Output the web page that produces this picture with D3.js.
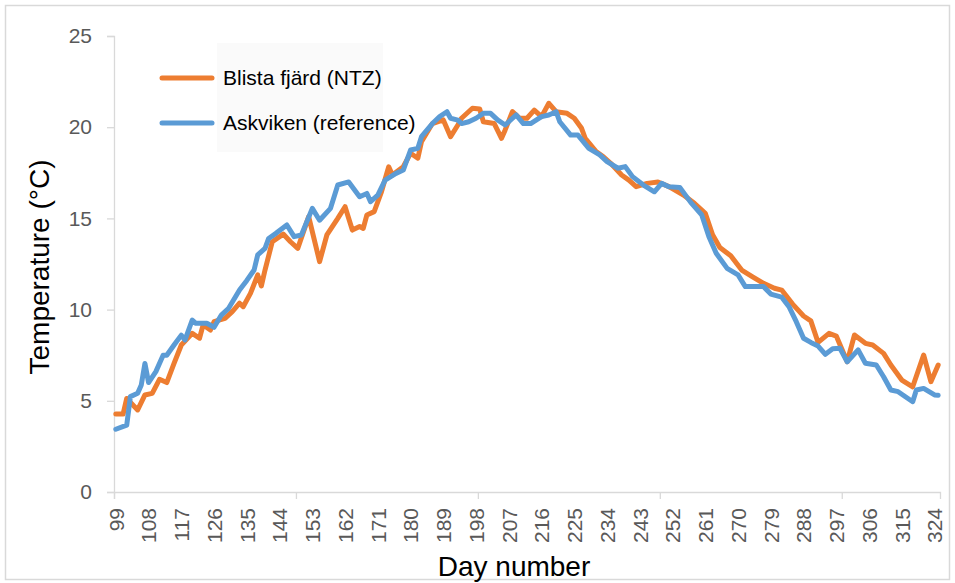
<!DOCTYPE html>
<html>
<head>
<meta charset="utf-8">
<script src="https://cdn.jsdelivr.net/npm/d3@7"></script>
<style>
  body { margin: 0; background: #fff; }
  svg { display: block; font-family: "Liberation Sans", Arial, sans-serif; }
</style>
</head>
<body>
<div id="chart"></div>
<script>
// Day range of the category axis
const firstDay = 99;
const lastDay = 325;
const dayLabels = [99, 108, 117, 126, 135, 144, 153, 162, 171, 180, 189, 198, 207, 216, 225, 234, 243, 252, 261, 270, 279, 288, 297, 306, 315, 324];
const tempTicks = [0, 5, 10, 15, 20, 25];

// Blista fjärd (NTZ) - [day, temperature]
const blista = [
  [99, 4.27], [101, 4.27], [102, 5.13], [105, 4.5], [107, 5.32], [109, 5.41], [111, 6.18], [113, 6.0],
  [115, 7.05], [117, 8.06], [120, 8.7], [122, 8.43], [123, 9.16], [125, 8.88], [126, 9.34], [129, 9.52],
  [131, 9.89], [133, 10.35], [134, 10.16], [136, 10.89], [138, 11.9], [139, 11.3], [140, 12.17], [142, 13.72],
  [145, 14.14], [147, 13.72], [149, 13.36], [152, 15.1], [155, 12.63], [157, 14.09], [160, 15.0], [162, 15.64],
  [164, 14.36], [166, 14.55], [167, 14.45], [168, 15.19], [170, 15.37], [172, 16.46], [174, 17.83], [175, 17.38],
  [178, 17.83], [180, 18.57], [182, 18.3], [183, 19.2], [186, 20.2], [189, 20.4], [191, 19.48], [193, 20.12],
  [194, 20.49], [197, 21.04], [199, 21.0], [200, 20.3], [203, 20.2], [205, 19.39], [206, 19.85], [208, 20.85],
  [210, 20.49], [212, 20.49], [214, 20.94], [216, 20.58], [218, 21.31], [220, 20.85], [223, 20.76], [225, 20.49],
  [227, 19.94], [228, 19.39], [231, 18.66], [233, 18.38], [235, 18.02], [238, 17.38], [240, 17.1], [242, 16.74],
  [245, 16.92], [248, 17.0], [251, 16.74], [255, 16.28], [258, 15.83], [261, 15.28], [263, 14.1], [265, 13.4],
  [268, 12.95], [271, 12.17], [274, 11.8], [277, 11.44], [280, 11.17], [282, 11.07], [285, 10.3], [288, 9.65],
  [290, 9.38], [292, 8.2], [295, 8.7], [297, 8.55], [300, 7.14], [302, 8.61], [305, 8.15], [307, 8.06],
  [310, 7.6], [312, 6.96], [313, 6.69], [315, 6.14], [318, 5.77], [321, 7.51], [323, 6.05], [325, 6.96]
];

// Askviken (reference) - [day, temperature]
const askviken = [
  [99, 3.44], [102, 3.67], [103, 5.23], [105, 5.41], [106, 5.87], [107, 7.05], [108, 6.0], [110, 6.6],
  [112, 7.5], [113, 7.5], [115, 8.06], [117, 8.6], [118, 8.33], [120, 9.43], [121, 9.25], [124, 9.25],
  [126, 9.03], [128, 9.7], [130, 10.07], [133, 11.07], [135, 11.6], [137, 12.17], [138, 13.0], [140, 13.36],
  [141, 13.9], [143, 14.18], [146, 14.64], [148, 14.0], [150, 14.09], [153, 15.55], [155, 14.9], [158, 15.55],
  [160, 16.83], [163, 17.0], [166, 16.19], [168, 16.37], [169, 15.92], [171, 16.28], [173, 17.1], [176, 17.47],
  [178, 17.65], [180, 18.75], [182, 18.84], [183, 19.48], [186, 20.2], [188, 20.58], [190, 20.85], [191, 20.49],
  [193, 20.39], [194, 20.2], [196, 20.3], [198, 20.49], [200, 20.76], [202, 20.76], [204, 20.39], [206, 20.12],
  [209, 20.67], [211, 20.2], [213, 20.2], [216, 20.58], [218, 20.67], [220, 20.85], [221, 20.3], [224, 19.57],
  [226, 19.57], [229, 18.84], [232, 18.48], [234, 18.11], [237, 17.75], [239, 17.84], [241, 17.29], [244, 16.83],
  [247, 16.46], [249, 16.92], [251, 16.74], [254, 16.7], [257, 15.88], [260, 15.2], [262, 14.0], [264, 13.09],
  [267, 12.26], [270, 11.9], [272, 11.26], [274, 11.26], [277, 11.26], [279, 10.85], [282, 10.68], [284, 10.16],
  [286, 9.34], [288, 8.43], [290, 8.2], [292, 8.0], [294, 7.55], [296, 7.85], [298, 7.88], [300, 7.14],
  [303, 7.79], [305, 7.06], [308, 6.96], [310, 6.32], [312, 5.59], [314, 5.5], [316, 5.22], [318, 4.95],
  [319, 5.59], [321, 5.68], [324, 5.32], [325, 5.3]
];

const seriesNames = ["Blista fjärd (NTZ)", "Askviken (reference)"];
const seriesColors = ["#ED7D31", "#5B9BD5"];

// Plot box (pixels)
const W = 955, H = 583;
const plot = {left: 114, right: 940, top: 36, bottom: 492};
const axisGray = "#d9d9d9";
const labelGray = "#595959";

const svg = d3.select("#chart")
    .append("svg")
    .attr("width", W)
    .attr("height", H);

// Outer chart border
svg.append("rect")
    .attr("x", 5.5)
    .attr("y", 5.5)
    .attr("width", 944)
    .attr("height", 574)
    .attr("fill", "#fff")
    .attr("stroke", axisGray)
    .attr("stroke-width", 1.5);

// Scales: category axis, each day takes one slot
const x = d3.scaleLinear()
    .domain([firstDay - 0.5, lastDay + 0.5])
    .range([plot.left, plot.right]);

const y = d3.scaleLinear()
    .domain([0, 25])
    .range([plot.bottom, plot.top]);

// Y axis
const yAxis = svg.append("g")
    .attr("transform", `translate(${plot.left},0)`)
    .call(d3.axisLeft(y).tickValues(tempTicks).tickSize(7).tickPadding(15));
yAxis.select(".domain").attr("stroke", axisGray).attr("stroke-width", 1.3);
yAxis.selectAll(".tick line").attr("stroke", axisGray).attr("stroke-width", 1.3);
yAxis.selectAll(".tick text")
    .attr("fill", labelGray)
    .style("font-size", "21px")
    .style("font-family", "'Liberation Sans', Arial, sans-serif");

// X axis line + tick marks every 50 categories
const xAxis = svg.append("g")
    .attr("transform", `translate(0,${plot.bottom})`)
    .call(d3.axisBottom(x)
        .tickValues(d3.range(firstDay - 0.5, lastDay + 0.5, 50))
        .tickSize(7)
        .tickFormat(""));
xAxis.select(".domain").attr("stroke", axisGray).attr("stroke-width", 1.3);
xAxis.selectAll(".tick line").attr("stroke", axisGray).attr("stroke-width", 1.3);

// Rotated day labels
const xLabels = svg.append("g")
    .attr("transform", `translate(0,${plot.bottom})`)
    .call(d3.axisBottom(x).tickValues(dayLabels).tickSize(0).tickFormat(d3.format("d")));
xLabels.select(".domain").remove();
xLabels.selectAll(".tick text")
    .attr("fill", labelGray)
    .style("font-size", "21px")
    .style("font-family", "'Liberation Sans', Arial, sans-serif")
    .attr("text-anchor", "end")
    .attr("transform", "rotate(-90)")
    .attr("x", -16)
    .attr("y", 0)
    .attr("dy", "0.35em");

// Axis titles
svg.append("text")
    .attr("transform", `translate(49,${(plot.top + plot.bottom) / 2 + 3}) rotate(-90)`)
    .attr("text-anchor", "middle")
    .style("font-size", "28px")
    .attr("fill", "#000")
    .text("Temperature (°C)");

svg.append("text")
    .attr("x", 514)
    .attr("y", 576)
    .attr("text-anchor", "middle")
    .style("font-size", "28px")
    .attr("fill", "#000")
    .text("Day number");

// Lines
const line = d3.line()
    .x(d => x(d[0]))
    .y(d => y(d[1]))
    .curve(d3.curveLinear);

[blista, askviken].forEach((data, i) => {
    svg.append("path")
        .datum(data)
        .attr("fill", "none")
        .attr("stroke", seriesColors[i])
        .attr("stroke-width", 5)
        .attr("stroke-linejoin", "round")
        .attr("stroke-linecap", "round")
        .attr("d", line);
});

// Legend
svg.append("rect")
    .attr("x", 217)
    .attr("y", 43)
    .attr("width", 166)
    .attr("height", 109)
    .attr("fill", "#fafafa");

const legend = svg.append("g");
seriesNames.forEach((name, i) => {
    const ly = 78 + i * 45;
    legend.append("line")
        .attr("x1", 162)
        .attr("x2", 212)
        .attr("y1", ly)
        .attr("y2", ly)
        .attr("stroke", seriesColors[i])
        .attr("stroke-width", 5)
        .attr("stroke-linecap", "round");
    legend.append("text")
        .attr("x", 223)
        .attr("y", ly)
        .attr("dy", "0.35em")
        .style("font-size", "21px")
        .attr("fill", "#000")
        .text(name);
});
</script>
</body>
</html>
